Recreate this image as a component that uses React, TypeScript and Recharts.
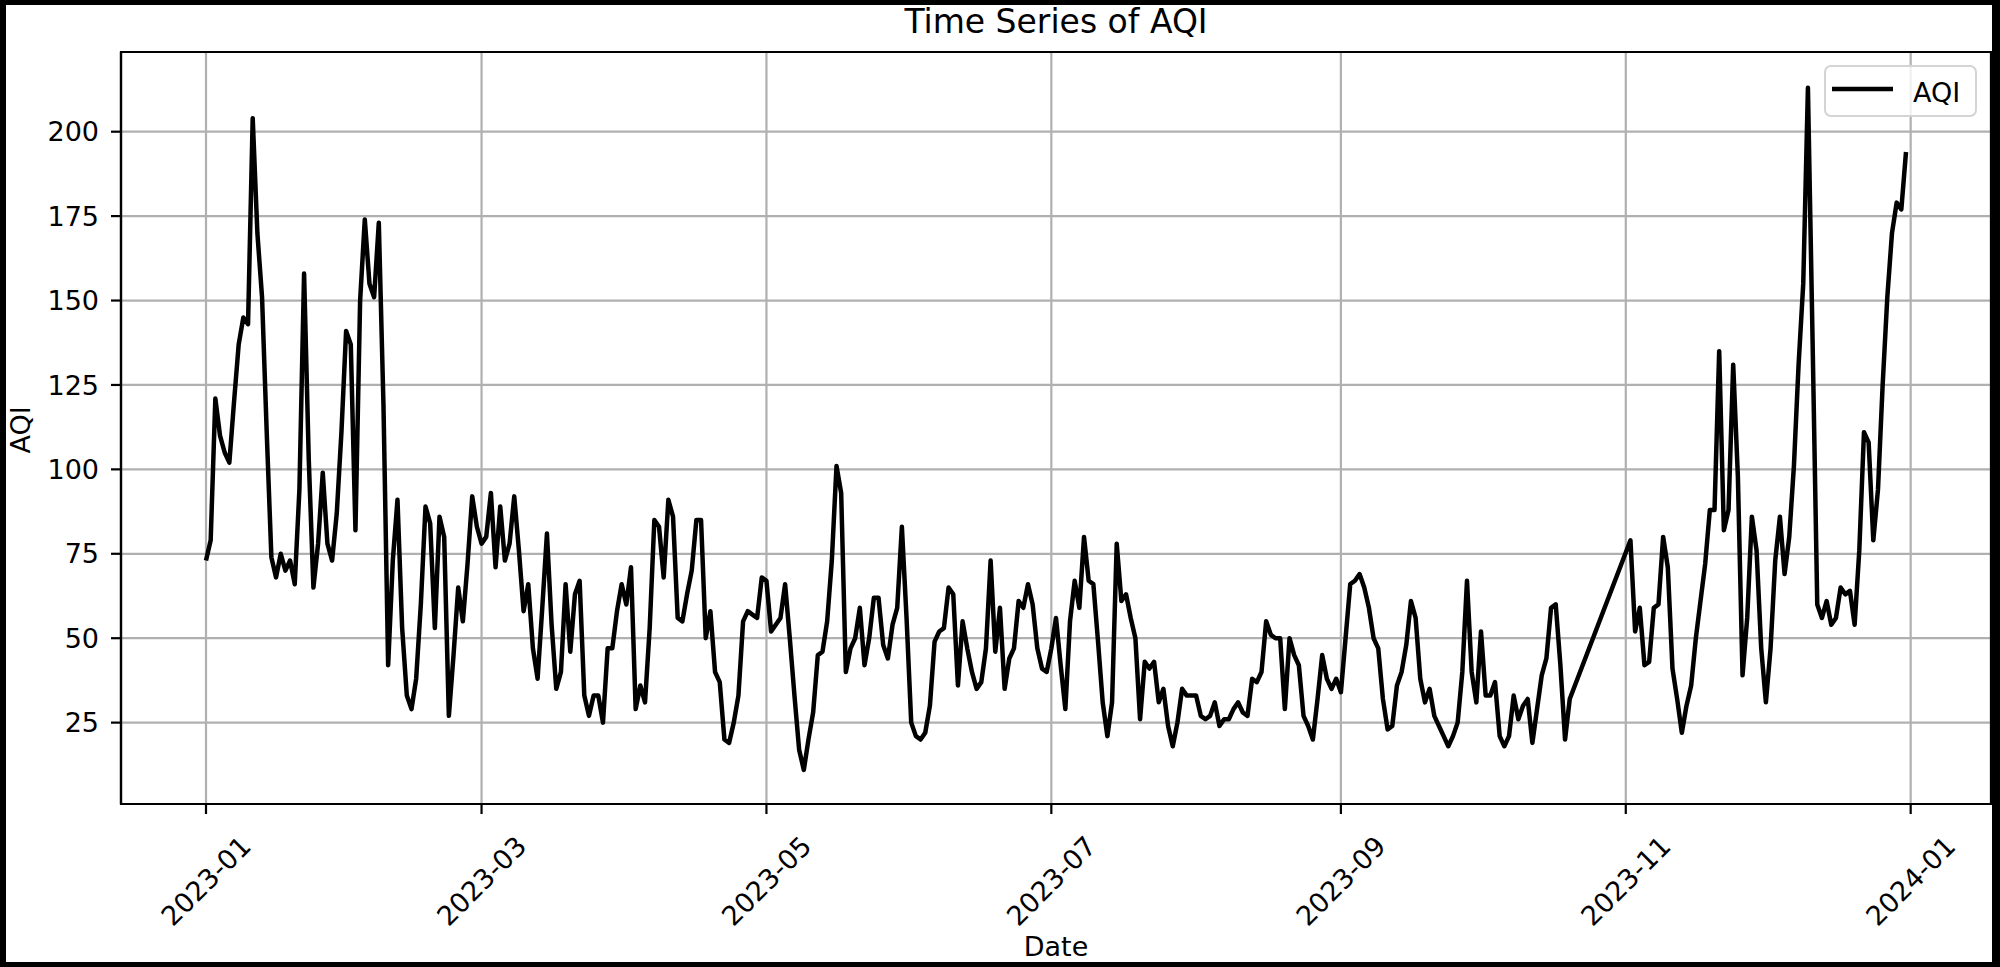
import React from 'react';
import { LineChart, Line, XAxis, YAxis, CartesianGrid, Legend, ReferenceArea } from 'recharts';

// daily AQI readings for 2023 (day 0 = 2023-01-01)
const aqiJanFeb = [
  73, 79, 121, 110, 105, 102, 120, 137, 145, 143, 204, 170, 151, 111, 74, 68, 75, 70, 73, 66,
  94, 158, 103, 65, 78, 99, 78, 73, 87, 111, 141, 137, 82, 150, 174, 155, 151, 173, 119, 42,
  73, 91, 53, 33, 29, 38, 60, 89, 84, 53, 86, 80, 27, 45, 65, 55, 72, 92, 83,
];
const aqiMarApr = [
  78, 80, 93, 71, 89, 73, 78, 92, 76, 58, 66, 47, 38, 59, 81, 54, 35, 40, 66, 46,
  63, 67, 33, 27, 33, 33, 25, 47, 47, 58, 66, 60, 71, 29, 36, 31, 53, 85, 83, 68,
  91, 86, 56, 55, 63, 70, 85, 85, 50, 58, 40, 37, 20, 19, 25, 33, 55, 58, 57, 56, 68,
];
const aqiMayJun = [
  67, 52, 54, 56, 66, 50, 33, 17, 11, 20, 28, 45, 46, 55, 73, 101, 93, 40, 47, 50,
  59, 42, 50, 62, 62, 48, 44, 54, 59, 83, 56, 25, 21, 20, 22, 30, 49, 52, 53, 65,
  63, 36, 55, 47, 40, 35, 37, 47, 73, 46, 59, 35, 44, 47, 61, 59, 66, 60, 47, 41, 40,
];
const aqiJulAug = [
  47, 56, 42, 29, 55, 67, 59, 80, 67, 66, 49, 31, 21, 31, 78, 61, 63, 56, 50, 26,
  43, 41, 43, 31, 35, 24, 18, 25, 35, 33, 33, 33, 27, 26, 27, 31, 24, 26, 26, 29,
  31, 28, 27, 38, 37, 40, 55, 51, 50, 50, 29, 50, 45, 42, 27, 24, 20, 32, 45, 38, 35, 38,
];
const aqiSepOct = [
  34, 50, 66, 67, 69, 65, 59, 50, 47, 32, 23, 24, 36, 40, 48, 61, 56, 38, 31, 35,
  27, 24, 21, 18, 21, 25, 40, 67, 40, 31, 52, 33, 33, 37, 21, 18, 21, 33, 26, 30,
  32, 19, 29, 39, 44, 59, 60, 42, 20, 32,
];
// no readings between 2023-10-20 and 2023-11-01
const aqiNovDec = [
  79, 52, 59, 42, 43, 59, 60, 80, 71, 41, 32, 22, 30, 36, 50, 61, 72, 88, 88, 135,
  82, 88, 131, 98, 39, 56, 86, 76, 47, 31, 47, 73, 86, 69, 80, 101, 131, 155, 213, 138,
  60, 56, 61, 54, 56, 65, 63, 64, 54, 76, 111, 108, 79, 94, 125, 151, 170, 179, 177, 194,
];

const segmentStarts = [0, 59, 120, 181, 243, 305];
const segmentValues = [aqiJanFeb, aqiMarApr, aqiMayJun, aqiJulAug, aqiSepOct, aqiNovDec];

const tickDays = [0, 59, 120, 181, 243, 304, 365];
const tickLabels = ['2023-01', '2023-03', '2023-05', '2023-07', '2023-09', '2023-11', '2024-01'];
const yTicks = [25, 50, 75, 100, 125, 150, 175, 200];

const data = segmentValues.flatMap((vals, s) =>
  vals.map((v, i) => ({ day: segmentStarts[s] + i, aqi: v }))
);

const FONT = "'DejaVu Sans', sans-serif";
const W = 2000;
const H = 967;
const X_AXIS_H = 163;
const PLOT_BOTTOM = H - X_AXIS_H;

const DateTick = (props: any) => {
  const { x, payload } = props;
  const label = tickLabels[tickDays.indexOf(payload.value)];
  const cy = PLOT_BOTTOM + 77;
  return (
    <text
      x={x}
      y={cy}
      textAnchor="middle"
      dominantBaseline="central"
      transform={`rotate(-45, ${x}, ${cy})`}
      fontFamily={FONT}
      fontSize={27}
      fill="#000"
    >
      {label}
    </text>
  );
};

const LegendBox = () => (
  <div
    style={{
      boxSizing: 'border-box',
      width: 153,
      height: 52,
      border: '2px solid #d4d4d4',
      borderRadius: 7,
      background: 'rgba(255,255,255,0.8)',
    }}
  >
    <svg width={149} height={48} style={{ display: 'block' }}>
      <line x1={6} x2={67} y1={22} y2={22} stroke="#000" strokeWidth={4.5} />
      <text x={87} y={35} fontFamily={FONT} fontSize={27} fill="#000">
        AQI
      </text>
    </svg>
  </div>
);

export default function App() {
  return (
    <div style={{ position: 'absolute', left: 0, top: 0, width: W, height: H, background: '#fff', fontFamily: FONT }}>
      <LineChart width={W} height={H} data={data} margin={{ top: 52, right: 9, bottom: 0, left: 0 }}>
        <CartesianGrid stroke="#b0b0b0" strokeWidth={2.2} />
        <XAxis
          dataKey="day"
          type="number"
          domain={[-18.2, 382.2]}
          ticks={tickDays}
          interval={0}
          height={X_AXIS_H}
          tick={<DateTick />}
          tickSize={10}
          tickLine={{ stroke: '#000', strokeWidth: 2.2 }}
          axisLine={{ stroke: '#000', strokeWidth: 2.2 }}
          allowDataOverflow
        />
        <YAxis
          type="number"
          domain={[0.9, 223.6]}
          ticks={yTicks}
          interval={0}
          width={121}
          tickSize={10}
          tickMargin={12}
          tick={{ fill: '#000', fontSize: 27, fontFamily: FONT }}
          tickLine={{ stroke: '#000', strokeWidth: 2.2 }}
          axisLine={{ stroke: '#000', strokeWidth: 2.2 }}
          allowDataOverflow
        />
        <ReferenceArea x1={-18.2} x2={382.2} y1={0.9} y2={223.6} fill="none" stroke="#000" strokeWidth={2.2} />
        <Line
          type="linear"
          dataKey="aqi"
          name="AQI"
          stroke="#000"
          strokeWidth={4.5}
          strokeLinejoin="round"
          dot={false}
          activeDot={false}
          isAnimationActive={false}
        />
        <Legend
          layout="horizontal"
          verticalAlign="middle"
          align="center"
          content={() => <LegendBox />}
          wrapperStyle={{ left: 1824, top: 65, width: 153, height: 52 }}
        />
      </LineChart>
      <svg width={W} height={H} style={{ position: 'absolute', left: 0, top: 0, pointerEvents: 'none' }}>
        <text x={1056} y={33} textAnchor="middle" fontFamily={FONT} fontSize={33} fill="#000">
          Time Series of AQI
        </text>
        <text x={1056} y={956} textAnchor="middle" fontFamily={FONT} fontSize={27} fill="#000">
          Date
        </text>
        <text x={30} y={430} textAnchor="middle" transform="rotate(-90, 30, 430)" fontFamily={FONT} fontSize={27} fill="#000">
          AQI
        </text>
      </svg>
      <div
        style={{
          position: 'absolute',
          left: 0,
          top: 0,
          width: W,
          height: H,
          boxSizing: 'border-box',
          borderStyle: 'solid',
          borderColor: '#000',
          borderWidth: '5px 8px 5px 6px',
          pointerEvents: 'none',
        }}
      />
    </div>
  );
}
